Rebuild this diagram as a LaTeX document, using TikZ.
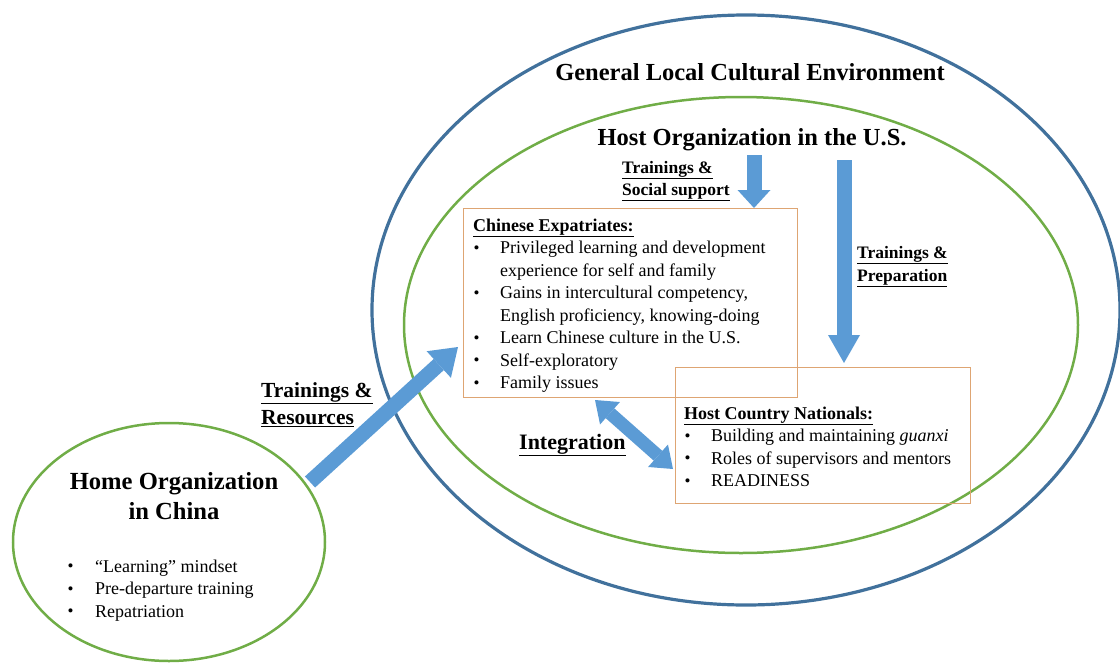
\documentclass[tikz,border=0pt]{standalone}
\usepackage{fontspec}
\setmainfont{Liberation Serif}
\usetikzlibrary{shapes.geometric,arrows.meta}
\definecolor{envblue}{RGB}{65,113,156}
\definecolor{orggreen}{RGB}{112,173,71}
\definecolor{boxline}{RGB}{222,165,115}
\definecolor{arrowblue}{RGB}{91,155,213}
\newcommand{\bitem}[2][27pt]{\makebox[#1][l]{\hspace{0.5pt}\raisebox{0.3pt}{\fontsize{17}{17}\selectfont •}}#2}
\newcommand{\bcont}[2][27pt]{\makebox[#1][l]{}#2}
\begin{document}
\begin{tikzpicture}[x=1pt,y=-1pt,
  envring/.style={ellipse, draw=envblue, line width=3.2pt, inner sep=0pt},
  orgring/.style={ellipse, draw=orggreen, line width=2.5pt, inner sep=0pt},
  framebox/.style={draw=boxline, line width=1pt, inner sep=0pt, anchor=north west},
  bodytext/.style={inner sep=0pt, anchor=north west, align=left, font=\fontsize{18}{22.5}\selectfont},
  titletext/.style={inner sep=0pt, anchor=base, font=\bfseries\fontsize{24.5}{30}\selectfont},
  lbltext/.style={inner sep=0pt, anchor=north west, align=left},
  fat/.style={draw=arrowblue, line width=#1},
  fat/.default=15pt
]
\useasboundingbox (0,0) rectangle (1120,662);

% rings
\node[envring, minimum width=748pt, minimum height=590pt] (env) at (746,310) {};
\node[orgring, minimum width=674pt, minimum height=456pt] (host) at (741,325) {};
\node[orgring, minimum width=312pt, minimum height=238pt] (home) at (169,542) {};

% boxes
\node[framebox, minimum width=334pt, minimum height=189pt] (ce) at (463,208) {};
\node[framebox, minimum width=295pt, minimum height=136pt] (hcn) at (675,367) {};

% titles
\node[titletext] (envtitle) at (750,80) {General Local Cultural Environment};
\node[titletext] (hosttitle) at (752,145) {Host Organization in the U.S.};
\node[inner sep=0pt, anchor=north, align=center, font=\bfseries\fontsize{24.6}{30}\selectfont] (hometitle) at (174,468)
  {\strut Home Organization\\\strut in China};

% box texts
\node[bodytext] (cetext) at (473,215.25) {%
\strut\underline{\textbf{Chinese Expatriates:}}\\
\strut\bitem{Privileged learning and development}\\
\strut\bcont{experience for self and family}\\
\strut\bitem{Gains in intercultural competency,}\\
\strut\bcont{English proficiency, knowing-doing}\\
\strut\bitem{Learn Chinese culture in the U.S.}\\
\strut\bitem{Self-exploratory}\\
\strut\bitem{Family issues}};

\node[bodytext] (hcntext) at (684,403.25) {%
\strut\underline{\textbf{Host Country Nationals:}}\\
\strut\bitem{Building and maintaining \textit{guanxi}}\\
\strut\bitem{Roles of supervisors and mentors}\\
\strut\bitem{READINESS}};

\node[bodytext] (hometext) at (67,556.25) {%
\strut\bitem[28pt]{“Learning” mindset}\\
\strut\bitem[28pt]{Pre-departure training}\\
\strut\bitem[28pt]{Repatriation}};

% arrow labels
\node[lbltext, font=\bfseries\fontsize{17.5}{22}\selectfont] (lss) at (622,157.6)
  {\strut\underline{Trainings \&}\\\strut\underline{Social support}};
\node[lbltext, font=\bfseries\fontsize{17.5}{23}\selectfont] (lpp) at (857,241.9)
  {\strut\underline{Trainings \&}\\\strut\underline{Preparation}};
\node[lbltext, font=\bfseries\fontsize{21.5}{27}\selectfont] (lrs) at (261,378.1)
  {\strut\underline{Trainings \&}\\\strut\underline{Resources}};
\node[inner sep=0pt, anchor=base west, font=\bfseries\fontsize{22}{27}\selectfont] (lin) at (519,449)
  {\underline{Integration}};

% arrows
\coordinate (ssA) at (754,155);
\draw[fat, -{Triangle[line width=0pt,width=33pt,length=18pt]}] (ssA) -- (ssA |- ce.north);

\coordinate (ppA) at (844,160);
\draw[fat, -{Triangle[line width=0pt,width=32pt,length=28pt]}] (ppA) -- ([yshift=4pt]ppA |- hcn.north);

\coordinate (rsA) at (310,482);
\coordinate (rsB) at (458,347);
\draw[fat, -{Triangle[line width=0pt,width=36pt,length=26pt]}] (rsA) -- (rsB);

\coordinate (inA) at (595,400);
\coordinate (inB) at (673,469);
\draw[fat=13pt, {Triangle[line width=0pt,width=30pt,length=20pt]}-{Triangle[line width=0pt,width=30pt,length=20pt]}] (inA) -- (inB);
\end{tikzpicture}
\end{document}
